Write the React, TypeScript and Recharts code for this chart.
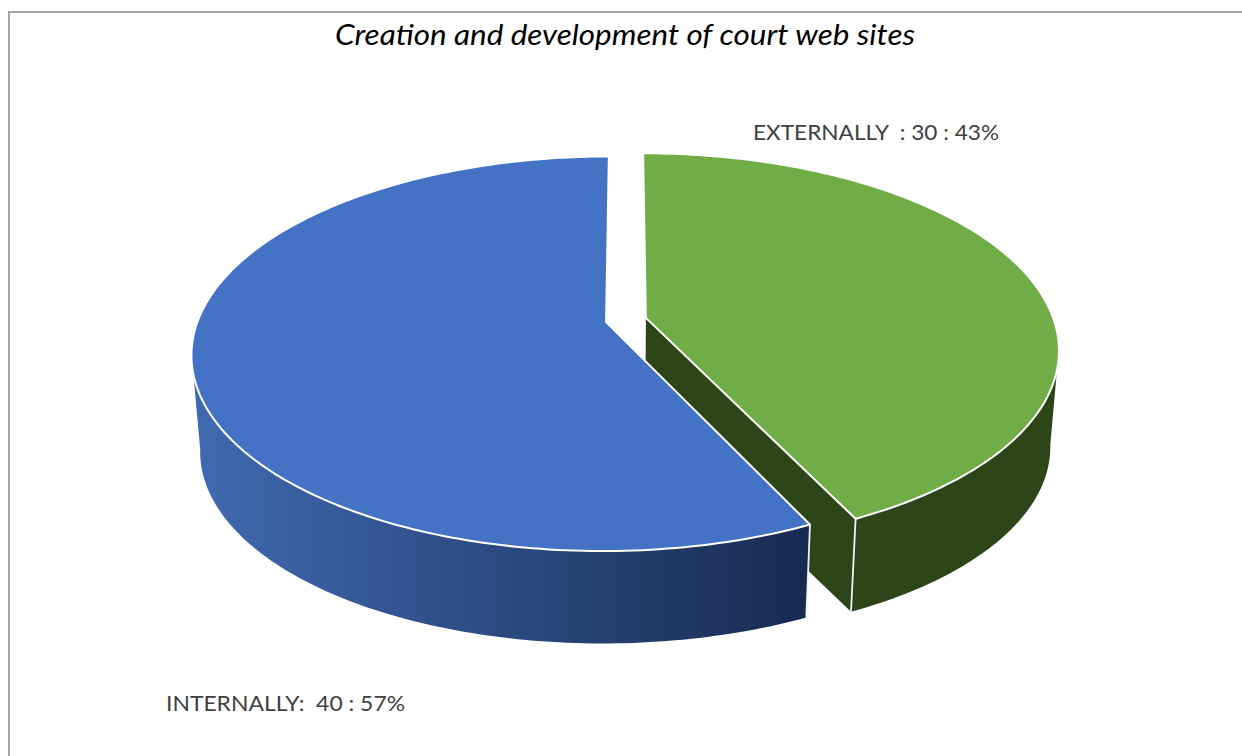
import { PieChart, Pie, Cell } from "recharts"

const categories = ["EXTERNALLY  :", "INTERNALLY: "]
const values = [30, 40]
const percents = [43, 57]
const COLORS = ["#70ad47", "#4472c4"]
const WALL_COLORS = [
  ["#2c4619", "#2c4619"],
  ["#4069b0", "#182a50"],
]
const LABEL_POS = [
  { x: 753, y: 140, len: 246 },
  { x: 166, y: 711, len: 239 },
]

const data = categories.map((name, i) => ({ name, value: values[i], percent: percents[i] }))

// tilted perspective, all in units of the pie radius
const SQUASH = 0.4695
const PERSPECTIVE = 0.16
const EXPLODE = 0.05
const DEPTH = 97
const FLOOR_SCALE = 0.98
// the rim wall only faces the viewer between these two angles
const FRONT_FROM = 99
const FRONT_TO = 261

const rad = (d: number) => (d * Math.PI) / 180

function Slice3D(props: any) {
  const { cx, cy, outerRadius, startAngle, endAngle, fill, index } = props
  const a = 90 - startAngle
  const b = 90 - endAngle
  const mid = (a + b) / 2
  const ex = EXPLODE * Math.sin(rad(mid))
  const ey = -EXPLODE * Math.cos(rad(mid))

  const project = (x: number, y: number, floor: boolean): [number, number] => {
    const w = 1 - PERSPECTIVE * y
    const s = floor ? FLOOR_SCALE : 1
    return [
      cx + (s * outerRadius * x) / w,
      cy + (floor ? DEPTH : 0) + (s * outerRadius * SQUASH * y) / w,
    ]
  }
  const rim = (deg: number, floor: boolean) =>
    project(ex + Math.sin(rad(deg)), ey - Math.cos(rad(deg)), floor)
  const apex = (floor: boolean) => project(ex, ey, floor)

  const sweep = (from: number, to: number) => {
    const out: number[] = []
    for (let t = from; t < to; t += 1) out.push(t)
    out.push(to)
    return out
  }

  const toPath = (pts: [number, number][]) =>
    "M" + pts.map((p) => p[0].toFixed(2) + " " + p[1].toFixed(2)).join("L") + "Z"

  const topRim = sweep(a, b).map((t) => rim(t, false))
  const wallAngles = sweep(Math.max(a, FRONT_FROM), Math.min(b, FRONT_TO))
  const wall = toPath([
    ...wallAngles.map((t) => rim(t, false)),
    ...wallAngles.map((t) => rim(t, true)).reverse(),
  ])

  const gradId = "wall-" + index
  const walls = WALL_COLORS[index]

  const cutFace = (deg: number) =>
    toPath([apex(false), rim(deg, false), rim(deg, true), apex(true)])

  const edge = (deg: number) => {
    if (deg < 90 || deg > 270) return null
    const p = rim(deg, false)
    const q = rim(deg, true)
    return <line x1={p[0]} y1={p[1]} x2={q[0]} y2={q[1]} stroke="#f2f2f2" strokeWidth={1.8} />
  }

  return (
    <g>
      <defs>
        <linearGradient id={gradId} gradientUnits="userSpaceOnUse" x1={200} x2={806} y1={0} y2={0}>
          <stop offset="0" stopColor={walls[0]} />
          <stop offset="1" stopColor={walls[1]} />
        </linearGradient>
      </defs>
      {b < 180 && <path d={cutFace(b)} fill={walls[1]} />}
      {a > 180 && <path d={cutFace(a)} fill={walls[0]} />}
      <path d={wall} fill={`url(#${gradId})`} />
      {edge(a)}
      {edge(b)}
      <path
        d={toPath([apex(false), ...topRim])}
        fill={fill}
        stroke="#ffffff"
        strokeWidth={2}
        strokeLinejoin="round"
      />
    </g>
  )
}

function renderLabel(props: any) {
  const i = props.index
  const pos = LABEL_POS[i]
  return (
    <text
      x={pos.x}
      y={pos.y}
      xmlSpace="preserve"
      textLength={pos.len}
      lengthAdjust="spacingAndGlyphs"
      fill="#404040"
      fontFamily="Lato"
      fontSize={22}
      textAnchor="start"
    >
      {`${categories[i]} ${values[i]} : ${percents[i]}%`}
    </text>
  )
}

export default function App() {
  return (
    <div style={{ position: "absolute", left: 0, top: 0, width: 1242, height: 756, overflow: "hidden", background: "#fff" }}>
      <div
        style={{
          position: "absolute",
          left: 8,
          top: 11,
          width: 1240,
          height: 760,
          borderTop: "2px solid #a6a6a6",
          borderLeft: "2px solid #a6a6a6",
        }}
      />
      <div style={{ position: "absolute", left: 0, top: 0 }}>
        <PieChart width={1242} height={756} margin={{ top: 0, right: 0, bottom: 0, left: 0 }}>
          <text
            x={335}
            y={45}
            textLength={580}
            lengthAdjust="spacingAndGlyphs"
            fill="#000000"
            fontFamily="Lato"
            fontStyle="italic"
            fontSize={29}
          >
            Creation and development of court web sites
          </text>
          <Pie
            data={data}
            dataKey="value"
            nameKey="name"
            cx={626}
            cy={320}
            innerRadius={0}
            outerRadius={408}
            startAngle={90}
            endAngle={-270}
            paddingAngle={0}
            stroke="none"
            shape={Slice3D}
            label={renderLabel}
            labelLine={false}
            isAnimationActive={false}
          >
            {data.map((_, i) => (
              <Cell key={i} fill={COLORS[i]} />
            ))}
          </Pie>
        </PieChart>
      </div>
    </div>
  )
}
